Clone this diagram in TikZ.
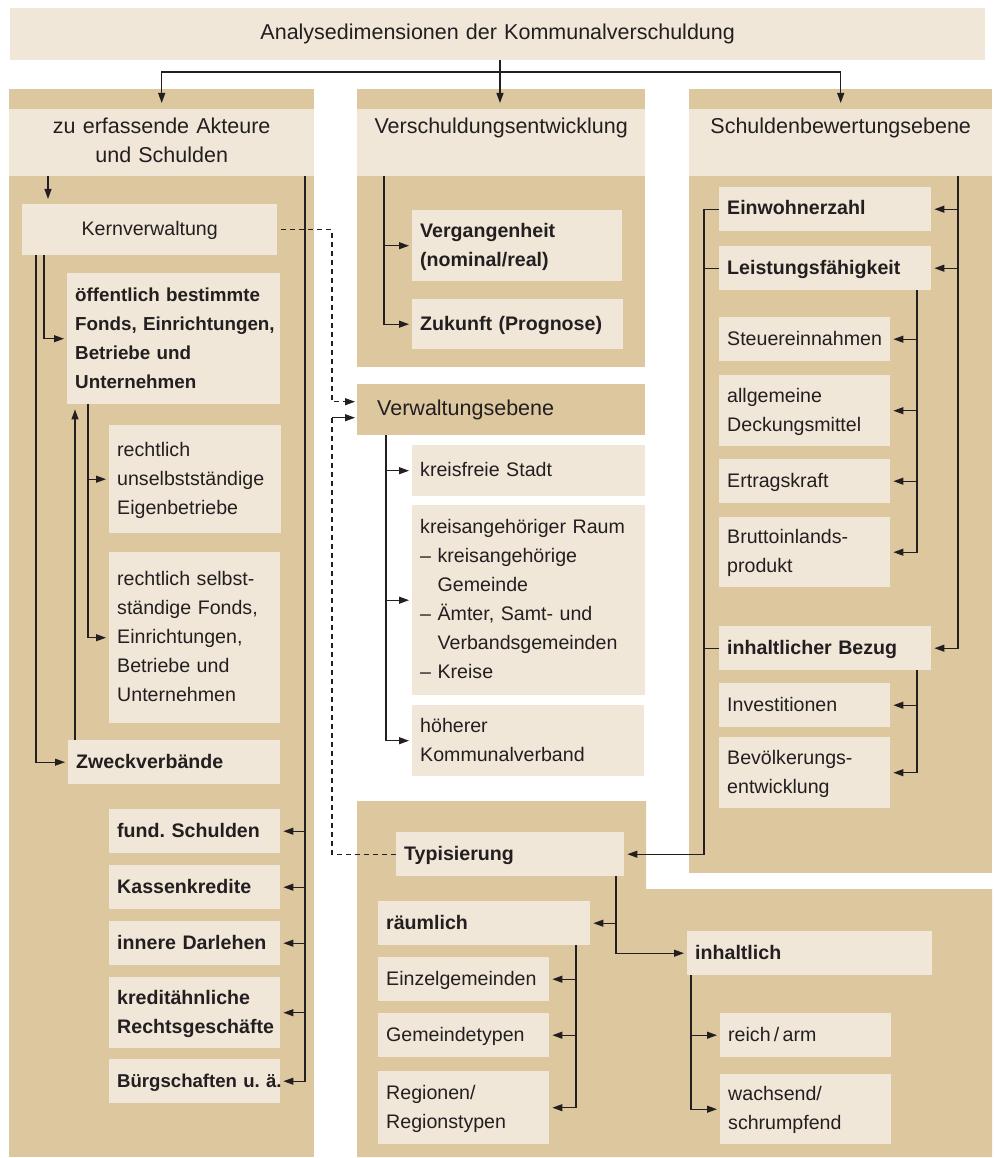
\documentclass[tikz,border=0pt]{standalone}
\usepackage{fontspec}
\setmainfont{Liberation Sans}
\usetikzlibrary{arrows.meta}
\definecolor{light}{RGB}{241,231,216}
\definecolor{dark}{RGB}{220,199,159}
\definecolor{ink}{RGB}{35,31,32}
\newcommand\boxfont{\fontsize{19.6}{29}\selectfont}
\newcommand\hdfont{\fontsize{21.5}{29}\selectfont}
\frenchspacing
\hyphenpenalty=10000

\begin{document}
\begin{tikzpicture}[x=1pt, y=-1pt,
        itembox/.style={fill=light, anchor=north west, inner xsep=8pt, inner ysep=0pt,
            align=left, text=ink, font=\boxfont,
            execute at begin node=\strut, execute at end node=\strut},
        boldbox/.style={itembox, font=\bfseries\boxfont},
        headbox/.style={itembox, align=center, font=\hdfont},
        con/.style={ink, line width=1.1pt, -{Triangle[length=10pt,width=7pt]}, shorten >=3pt},
        lnk/.style={ink, line width=1.1pt},
        dlnk/.style={lnk, dash pattern=on 5pt off 4pt}]
    \useasboundingbox (0,0) rectangle (995,1158);

    \fill[dark] (9,89) rectangle (314,1157);
    \fill[dark] (357,89) rectangle (645,367);
    \fill[dark] (689,89) rectangle (992,873);
    \fill[dark] (357,801) -- (646,801) -- (646,889) -- (992,889) -- (992,1157) -- (357,1157) -- cycle;

    \node[headbox, minimum width=975pt, minimum height=52pt, text width=959pt] (title) at (10,8) {Analysedimensionen der Kommunalverschuldung};
    \node[headbox, minimum width=305pt, minimum height=67pt, text width=289pt] (akteure) at (9,109) {zu erfassende Akteure\\und Schulden};
    \node[headbox, minimum width=288pt, minimum height=67pt, text width=272pt] (entw) at (357,109) {Verschuldungsentwicklung\\\mbox{}};
    \node[headbox, minimum width=303pt, minimum height=67pt, text width=287pt] (bew) at (689,109) {Schuldenbewertungsebene\\\mbox{}};

    \node[itembox, align=center, minimum width=255pt, minimum height=51pt, text width=239pt] (kern) at (22,204) {Kernverwaltung};
    \node[boldbox, font=\bfseries\fontsize{18.8}{29}\selectfont, minimum width=213pt, minimum height=131pt, text width=197pt] (oeff) at (67,273) {öffentlich bestimmte\\\mbox{Fonds, Einrichtungen,}\\Betriebe und\\Unternehmen};
    \node[itembox, minimum width=172pt, minimum height=108pt, text width=156pt] (unselb) at (109,425) {rechtlich\\unselbstständige\\Eigenbetriebe};
    \node[itembox, minimum width=171pt, minimum height=171pt, text width=155pt] (selb) at (109,552) {rechtlich selbst-\\ständige Fonds,\\Einrichtungen,\\Betriebe und\\Unternehmen};
    \node[boldbox, minimum width=212pt, minimum height=44pt, text width=196pt] (zweck) at (68,740) {Zweckverbände};
    \node[boldbox, minimum width=171pt, minimum height=44pt, text width=155pt] (fund) at (109,809) {fund. Schulden};
    \node[boldbox, minimum width=171pt, minimum height=44pt, text width=155pt] (kasse) at (109,865) {Kassenkredite};
    \node[boldbox, minimum width=171pt, minimum height=44pt, text width=155pt] (darl) at (109,921) {innere Darlehen};
    \node[boldbox, minimum width=171pt, minimum height=71pt, text width=155pt] (kredit) at (109,977) {kreditähnliche\\Rechtsgeschäfte};
    \node[boldbox, font=\bfseries\fontsize{18.6}{29}\selectfont, minimum width=171pt, minimum height=44pt, text width=155pt] (buerg) at (109,1059) {\mbox{Bürgschaften u. ä.}};

    \node[boldbox, minimum width=210pt, minimum height=71pt, text width=194pt] (verg) at (412,210) {Vergangenheit\\(nominal/real)};
    \node[boldbox, minimum width=211pt, minimum height=50pt, text width=195pt] (zuk) at (412,299) {Zukunft (Prognose)};
    \node[itembox, fill=dark, font=\hdfont, inner xsep=20pt, minimum width=288pt, minimum height=51pt, text width=248pt] (verw) at (357,384) {Verwaltungsebene};
    \node[itembox, minimum width=233pt, minimum height=51pt, text width=217pt] (kfrei) at (412,445) {kreisfreie Stadt};
    \node[itembox, minimum width=233pt, minimum height=190pt, text width=217pt] (kraum) at (412,505) {kreisangehöriger Raum\\-- kreisangehörige\\\phantom{-- }Gemeinde\\-- Ämter, Samt- und\\\phantom{-- }Verbandsgemeinden\\-- Kreise};
    \node[itembox, minimum width=232pt, minimum height=71pt, text width=216pt] (hoeher) at (412,705) {höherer\\Kommunalverband};

    \node[boldbox, minimum width=212pt, minimum height=44pt, text width=196pt] (einw) at (719,187) {Einwohnerzahl};
    \node[boldbox, minimum width=212pt, minimum height=44pt, text width=196pt] (leist) at (719,246) {Leistungsfähigkeit};
    \node[itembox, minimum width=171pt, minimum height=44pt, text width=155pt] (steuer) at (719,317) {Steuereinnahmen};
    \node[itembox, minimum width=171pt, minimum height=71pt, text width=155pt] (deck) at (719,375) {allgemeine\\Deckungsmittel};
    \node[itembox, minimum width=171pt, minimum height=44pt, text width=155pt] (ertrag) at (719,459) {Ertragskraft};
    \node[itembox, minimum width=171pt, minimum height=70pt, text width=155pt] (bip) at (719,517) {Bruttoinlands-\\produkt};
    \node[boldbox, minimum width=212pt, minimum height=44pt, text width=196pt] (inhb) at (719,626) {inhaltlicher Bezug};
    \node[itembox, minimum width=171pt, minimum height=44pt, text width=155pt] (invest) at (719,683) {Investitionen};
    \node[itembox, minimum width=171pt, minimum height=71pt, text width=155pt] (bevoelk) at (719,737) {Bevölkerungs-\\entwicklung};

    \node[boldbox, minimum width=228pt, minimum height=44pt, text width=212pt] (typ) at (396,832) {Typisierung};
    \node[boldbox, minimum width=212pt, minimum height=44pt, text width=196pt] (raeuml) at (378,901) {räumlich};
    \node[itembox, minimum width=171pt, minimum height=44pt, text width=155pt] (einzel) at (378,957) {Einzelgemeinden};
    \node[itembox, minimum width=171pt, minimum height=44pt, text width=155pt] (gtyp) at (378,1013) {Gemeindetypen};
    \node[itembox, minimum width=171pt, minimum height=73pt, text width=155pt] (reg) at (378,1071) {Regionen/\\Regionstypen};
    \node[boldbox, minimum width=245pt, minimum height=44pt, text width=229pt] (inhl) at (687,931) {inhaltlich};
    \node[itembox, minimum width=171pt, minimum height=44pt, text width=155pt] (reich) at (720,1013) {reich\,/\,arm};
    \node[itembox, minimum width=171pt, minimum height=70pt, text width=155pt] (wachs) at (720,1074) {wachsend/\\schrumpfend};

    \coordinate (tj) at (500,72);
    \coordinate (sK) at (48,0);
    \coordinate (sZ) at (36,0);
    \coordinate (sO) at (44,0);
    \coordinate (sU) at (75,0);
    \coordinate (sR) at (88,0);
    \coordinate (sS) at (305,0);
    \coordinate (sD) at (332,0);
    \coordinate (sE) at (384,0);
    \coordinate (sV) at (386,0);
    \coordinate (sW) at (958,0);
    \coordinate (sX) at (704,0);
    \coordinate (sL) at (917,0);
    \coordinate (sT) at (616,0);
    \coordinate (sQ) at (576,0);
    \coordinate (sI) at (691,0);
    \coordinate (vin1) at ([yshift=8pt]verw.west);
    \coordinate (vin2) at ([yshift=-8pt]verw.west);

    \draw[lnk] (title.south -| tj) -- (tj);
    \draw[con, shorten >=6pt] (tj) -| (akteure.north);
    \draw[con, shorten >=6pt] (tj) -- (tj |- entw.north);
    \draw[con, shorten >=6pt] (tj) -| (bew.north);

    \draw[con, shorten >=5pt] (akteure.south -| sK) -- (kern.north -| sK);
    \draw[con] (kern.south -| sO) |- (oeff.west);
    \draw[con] (kern.south -| sZ) |- (zweck.west);
    \draw[con, shorten >=5pt] (zweck.north -| sU) -- (oeff.south -| sU);
    \draw[con] (oeff.south -| sR) |- (unselb.west);
    \draw[con] (oeff.south -| sR) |- (selb.west);
    \foreach \n in {fund,kasse,darl,kredit,buerg}
        \draw[con] (akteure.south -| sS) |- (\n.east);

    \draw[dlnk, -{Triangle[length=10pt,width=7pt]}, shorten <=4pt, shorten >=2pt] (kern.east) -| (vin1 -| sD) -- (vin1);
    \draw[dlnk] (typ.west) -| (vin2 -| sD);
    \draw[con, shorten >=2pt] (vin2 -| sD) -- (vin2);

    \foreach \n in {verg,zuk}
        \draw[con] (entw.south -| sE) |- (\n.west);
    \foreach \n in {kfrei,kraum,hoeher}
        \draw[con] (verw.south -| sV) |- (\n.west);

    \foreach \n in {einw,leist,inhb}
        \draw[con] (bew.south -| sW) |- (\n.east);
    \foreach \n in {steuer,deck,ertrag,bip}
        \draw[con] (leist.south -| sL) |- (\n.east);
    \foreach \n in {invest,bevoelk}
        \draw[con] (inhb.south -| sL) |- (\n.east);
    \draw[con] (einw.west) -| (typ.east -| sX) -- (typ.east);
    \foreach \n in {leist,inhb}
        \draw[lnk] (\n.west) -- (\n.west -| sX);

    \draw[con] (typ.south -| sT) |- (raeuml.east);
    \draw[con] (typ.south -| sT) |- (inhl.west);
    \foreach \n in {einzel,gtyp,reg}
        \draw[con] (raeuml.south -| sQ) |- (\n.east);
    \foreach \n in {reich,wachs}
        \draw[con] (inhl.south -| sI) |- (\n.west);
\end{tikzpicture}
\end{document}
